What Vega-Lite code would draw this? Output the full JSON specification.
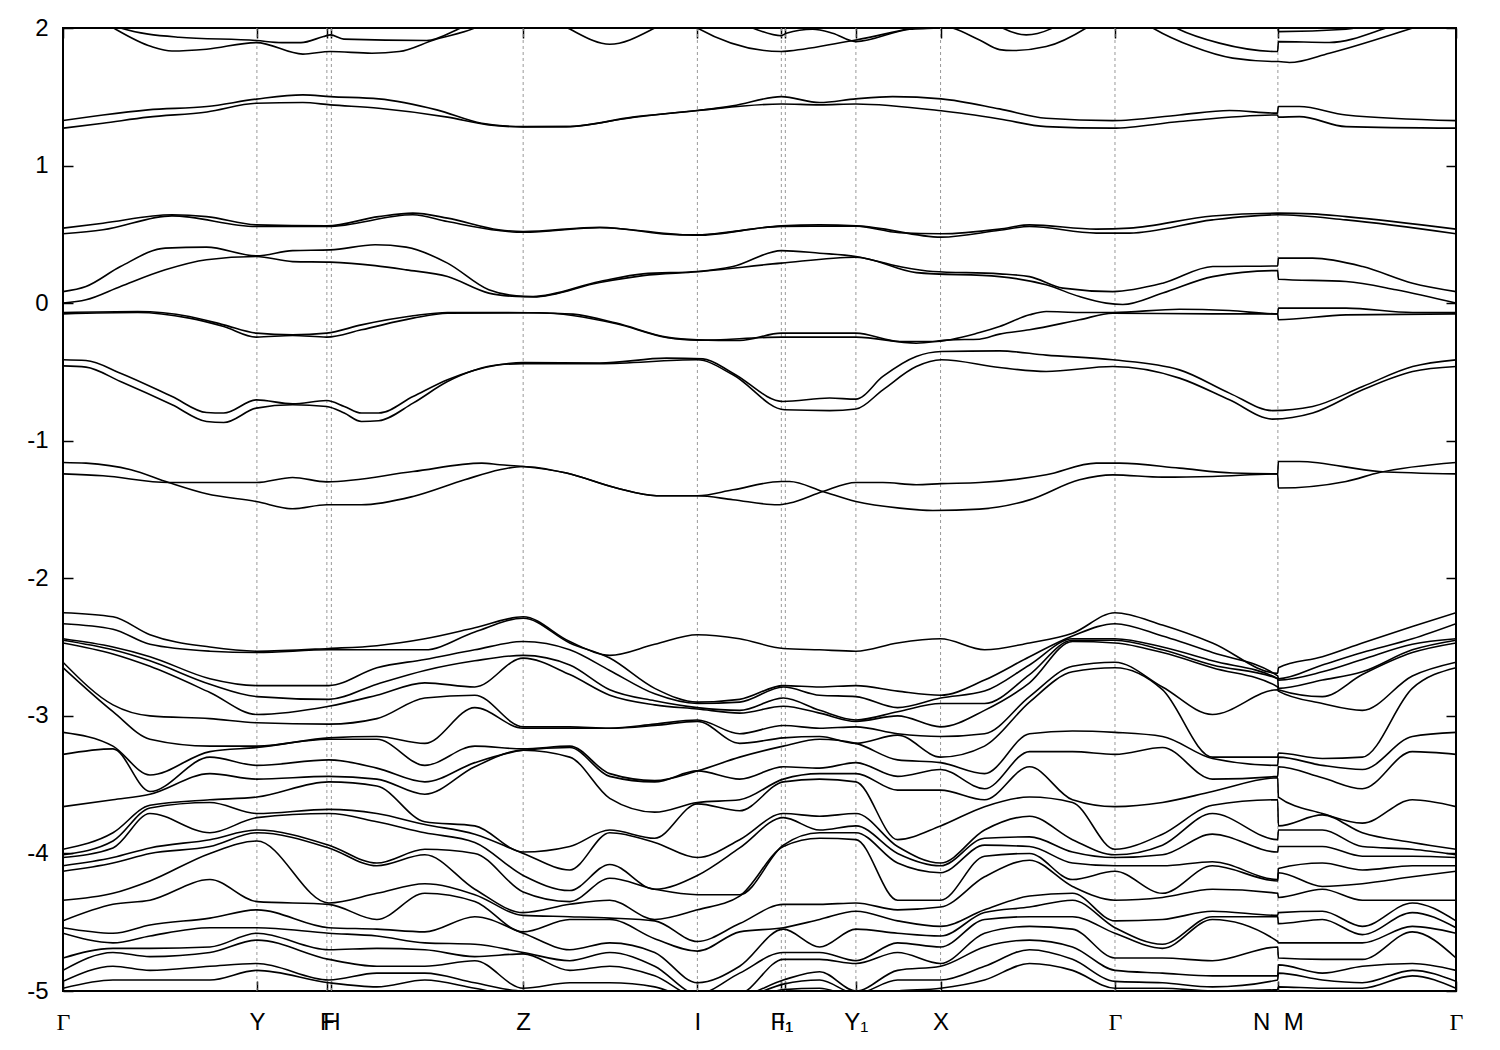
{
"$schema":"https://vega.github.io/schema/vega-lite/v6.json",
"width":1393,"height":963,
"autosize":{"type":"none"},
"padding":{"left":63,"top":28,"right":44,"bottom":59},
"background":"white",
"config":{"view":{"stroke":"black","strokeWidth":2},"font":"Liberation Sans"},
"datasets":{
"ticks":[{"k":194,"n":"Y"},{"k":264,"n":"F"},{"k":268.5,"n":"H"},{"k":460.4,"n":"Z"},{"k":634.7,"n":"I"},{"k":718.7,"n":"F1"},{"k":722.7,"n":"I1"},{"k":793.3,"n":"Y1"},{"k":878,"n":"X"},{"k":1052.5,"n":"G"},{"k":1215.5,"n":"NM"}],
"bands":[
{"b":"T1","k":0,"e":2.25},{"b":"T1","k":50.6,"e":2.0},{"b":"T1","k":88.5,"e":1.865},{"b":"T1","k":109,"e":1.833},{"b":"T1","k":143.6,"e":1.846},{"b":"T1","k":193.5,"e":1.894},{"b":"T1","k":240,"e":1.81},{"b":"T1","k":267.6,"e":1.829},{"b":"T1","k":309,"e":1.817},{"b":"T1","k":336.4,"e":1.829},{"b":"T1","k":371,"e":1.913},{"b":"T1","k":412,"e":2.0},{"b":"T1","k":460,"e":2.2},
{"b":"T2","k":0,"e":2.2},{"b":"T2","k":57.5,"e":2.0},{"b":"T2","k":116,"e":1.933},{"b":"T2","k":193.5,"e":1.909},{"b":"T2","k":219,"e":1.894},{"b":"T2","k":238,"e":1.894},{"b":"T2","k":260.7,"e":1.938},{"b":"T2","k":267.6,"e":1.95},{"b":"T2","k":281,"e":1.919},{"b":"T2","k":364,"e":1.909},{"b":"T2","k":398,"e":2.0},{"b":"T2","k":460,"e":2.2},
{"b":"T3","k":460,"e":2.2},{"b":"T3","k":505,"e":2.0},{"b":"T3","k":547,"e":1.882},{"b":"T3","k":592,"e":2.0},{"b":"T3","k":634.7,"e":2.2},
{"b":"T4","k":600,"e":2.2},{"b":"T4","k":634.7,"e":2.0},{"b":"T4","k":718.7,"e":1.829},{"b":"T4","k":727,"e":1.834},{"b":"T4","k":793.3,"e":1.913},{"b":"T4","k":878.7,"e":2.02},{"b":"T4","k":890,"e":2.0},{"b":"T4","k":917,"e":1.913},{"b":"T4","k":937,"e":1.843},{"b":"T4","k":950,"e":1.836},{"b":"T4","k":983.7,"e":1.865},{"b":"T4","k":1023.7,"e":2.0},{"b":"T4","k":1052,"e":2.15},
{"b":"T5","k":660,"e":2.1},{"b":"T5","k":690,"e":2.0},{"b":"T5","k":718.7,"e":1.944},{"b":"T5","k":723.7,"e":1.962},{"b":"T5","k":750,"e":1.991},{"b":"T5","k":770,"e":1.962},{"b":"T5","k":793,"e":1.901},{"b":"T5","k":847,"e":1.991},{"b":"T5","k":873.7,"e":2.0},{"b":"T5","k":900,"e":2.1},
{"b":"T6","k":920,"e":2.1},{"b":"T6","k":940,"e":2.0},{"b":"T6","k":963.7,"e":1.95},{"b":"T6","k":987,"e":1.99},{"b":"T6","k":1010,"e":2.1},
{"b":"T7","k":1060,"e":2.15},{"b":"T7","k":1090.3,"e":2.0},{"b":"T7","k":1130.3,"e":1.865},{"b":"T7","k":1170.3,"e":1.781},{"b":"T7","k":1215.3,"e":1.756},{"b":"T7","k":1216,"e":1.756},{"b":"T7","k":1227,"e":1.749},{"b":"T7","k":1267,"e":1.817},{"b":"T7","k":1350.3,"e":2.0},{"b":"T7","k":1393.7,"e":2.1},
{"b":"T8","k":1090,"e":2.1},{"b":"T8","k":1113.7,"e":2.0},{"b":"T8","k":1157,"e":1.89},{"b":"T8","k":1215.3,"e":1.829},{"b":"T8","k":1216,"e":1.901},{"b":"T8","k":1267,"e":1.895},{"b":"T8","k":1323.7,"e":2.0},{"b":"T8","k":1360,"e":2.1},
{"b":"T9","k":1200,"e":2.1},{"b":"T9","k":1215.3,"e":2.05},{"b":"T9","k":1216,"e":1.974},{"b":"T9","k":1283.7,"e":1.991},{"b":"T9","k":1320,"e":2.05},
{"b":"B1","k":0,"e":1.327},{"b":"B1","k":40,"e":1.368},{"b":"B1","k":85,"e":1.405},{"b":"B1","k":144,"e":1.429},{"b":"B1","k":193.5,"e":1.483},{"b":"B1","k":240,"e":1.514},{"b":"B1","k":267.6,"e":1.501},{"b":"B1","k":315.8,"e":1.485},{"b":"B1","k":374,"e":1.405},{"b":"B1","k":419,"e":1.308},{"b":"B1","k":460.4,"e":1.283},{"b":"B1","k":503.7,"e":1.283},{"b":"B1","k":570,"e":1.352},{"b":"B1","k":634.7,"e":1.4},{"b":"B1","k":670,"e":1.434},{"b":"B1","k":718.7,"e":1.501},{"b":"B1","k":757,"e":1.458},{"b":"B1","k":793.3,"e":1.485},{"b":"B1","k":830,"e":1.501},{"b":"B1","k":878.7,"e":1.485},{"b":"B1","k":937,"e":1.412},{"b":"B1","k":983.7,"e":1.344},{"b":"B1","k":1050,"e":1.327},{"b":"B1","k":1117,"e":1.368},{"b":"B1","k":1167,"e":1.4},{"b":"B1","k":1215,"e":1.381},{"b":"B1","k":1216,"e":1.429},{"b":"B1","k":1237,"e":1.429},{"b":"B1","k":1283.7,"e":1.368},{"b":"B1","k":1393.7,"e":1.327},
{"b":"B2","k":0,"e":1.272},{"b":"B2","k":40,"e":1.308},{"b":"B2","k":85,"e":1.352},{"b":"B2","k":144,"e":1.39},{"b":"B2","k":193.5,"e":1.453},{"b":"B2","k":240,"e":1.458},{"b":"B2","k":267.6,"e":1.441},{"b":"B2","k":315.8,"e":1.417},{"b":"B2","k":384.7,"e":1.352},{"b":"B2","k":426,"e":1.296},{"b":"B2","k":460.4,"e":1.281},{"b":"B2","k":503.7,"e":1.283},{"b":"B2","k":570,"e":1.35},{"b":"B2","k":634.7,"e":1.4},{"b":"B2","k":718.7,"e":1.448},{"b":"B2","k":757,"e":1.441},{"b":"B2","k":793.3,"e":1.448},{"b":"B2","k":878.7,"e":1.398},{"b":"B2","k":937,"e":1.339},{"b":"B2","k":983.7,"e":1.283},{"b":"B2","k":1050,"e":1.272},{"b":"B2","k":1117,"e":1.32},{"b":"B2","k":1215,"e":1.368},{"b":"B2","k":1216,"e":1.352},{"b":"B2","k":1237,"e":1.356},{"b":"B2","k":1283.7,"e":1.283},{"b":"B2","k":1393.7,"e":1.272},
{"b":"C1","k":0,"e":0.545},{"b":"C1","k":40,"e":0.581},{"b":"C1","k":109,"e":0.642},{"b":"C1","k":143.6,"e":0.629},{"b":"C1","k":193.5,"e":0.569},{"b":"C1","k":264,"e":0.562},{"b":"C1","k":315.8,"e":0.629},{"b":"C1","k":350,"e":0.654},{"b":"C1","k":384.7,"e":0.618},{"b":"C1","k":436,"e":0.533},{"b":"C1","k":460.4,"e":0.52},{"b":"C1","k":537,"e":0.552},{"b":"C1","k":617,"e":0.496},{"b":"C1","k":634.7,"e":0.496},{"b":"C1","k":670,"e":0.52},{"b":"C1","k":718.7,"e":0.562},{"b":"C1","k":757,"e":0.569},{"b":"C1","k":793.3,"e":0.562},{"b":"C1","k":837,"e":0.512},{"b":"C1","k":878.7,"e":0.504},{"b":"C1","k":937,"e":0.538},{"b":"C1","k":967,"e":0.569},{"b":"C1","k":1033.7,"e":0.538},{"b":"C1","k":1067,"e":0.545},{"b":"C1","k":1150,"e":0.634},{"b":"C1","k":1215.3,"e":0.654},{"b":"C1","k":1250,"e":0.649},{"b":"C1","k":1283.7,"e":0.629},{"b":"C1","k":1393.7,"e":0.538},
{"b":"C2","k":0,"e":0.504},{"b":"C2","k":40,"e":0.533},{"b":"C2","k":109,"e":0.634},{"b":"C2","k":193.5,"e":0.557},{"b":"C2","k":264,"e":0.557},{"b":"C2","k":350,"e":0.642},{"b":"C2","k":384.7,"e":0.593},{"b":"C2","k":436,"e":0.528},{"b":"C2","k":460.4,"e":0.515},{"b":"C2","k":537,"e":0.548},{"b":"C2","k":634.7,"e":0.493},{"b":"C2","k":718.7,"e":0.558},{"b":"C2","k":793.3,"e":0.56},{"b":"C2","k":878.7,"e":0.48},{"b":"C2","k":937,"e":0.53},{"b":"C2","k":967,"e":0.557},{"b":"C2","k":1033.7,"e":0.509},{"b":"C2","k":1067,"e":0.509},{"b":"C2","k":1150,"e":0.605},{"b":"C2","k":1215.3,"e":0.642},{"b":"C2","k":1283.7,"e":0.605},{"b":"C2","k":1393.7,"e":0.504},
{"b":"D1","k":0,"e":0.084},{"b":"D1","k":23,"e":0.121},{"b":"D1","k":57.5,"e":0.266},{"b":"D1","k":102.3,"e":0.4},{"b":"D1","k":143.6,"e":0.407},{"b":"D1","k":193.5,"e":0.344},{"b":"D1","k":229.7,"e":0.382},{"b":"D1","k":267.6,"e":0.387},{"b":"D1","k":312.3,"e":0.424},{"b":"D1","k":343.3,"e":0.407},{"b":"D1","k":384.7,"e":0.291},{"b":"D1","k":426,"e":0.097},{"b":"D1","k":453.5,"e":0.053},{"b":"D1","k":470.3,"e":0.048},{"b":"D1","k":537,"e":0.157},{"b":"D1","k":580.3,"e":0.213},{"b":"D1","k":634.7,"e":0.23},{"b":"D1","k":670.3,"e":0.266},{"b":"D1","k":718.7,"e":0.382},{"b":"D1","k":757,"e":0.363},{"b":"D1","k":793.3,"e":0.339},{"b":"D1","k":837,"e":0.266},{"b":"D1","k":870.3,"e":0.23},{"b":"D1","k":937,"e":0.213},{"b":"D1","k":967,"e":0.193},{"b":"D1","k":1000.3,"e":0.109},{"b":"D1","k":1050.3,"e":0.084},{"b":"D1","k":1100.3,"e":0.145},{"b":"D1","k":1150.3,"e":0.266},{"b":"D1","k":1215.3,"e":0.271},{"b":"D1","k":1216,"e":0.327},{"b":"D1","k":1250.3,"e":0.327},{"b":"D1","k":1300.3,"e":0.266},{"b":"D1","k":1350.3,"e":0.145},{"b":"D1","k":1393.7,"e":0.084},
{"b":"D2","k":0,"e":0.0},{"b":"D2","k":23,"e":0.024},{"b":"D2","k":57.5,"e":0.121},{"b":"D2","k":102.3,"e":0.242},{"b":"D2","k":143.6,"e":0.315},{"b":"D2","k":193.5,"e":0.339},{"b":"D2","k":229.7,"e":0.302},{"b":"D2","k":267.6,"e":0.298},{"b":"D2","k":312.3,"e":0.273},{"b":"D2","k":343.3,"e":0.242},{"b":"D2","k":384.7,"e":0.193},{"b":"D2","k":426,"e":0.073},{"b":"D2","k":453.5,"e":0.048},{"b":"D2","k":470.3,"e":0.045},{"b":"D2","k":537,"e":0.15},{"b":"D2","k":580.3,"e":0.2},{"b":"D2","k":634.7,"e":0.228},{"b":"D2","k":718.7,"e":0.291},{"b":"D2","k":793.3,"e":0.334},{"b":"D2","k":853.7,"e":0.222},{"b":"D2","k":937,"e":0.193},{"b":"D2","k":983.7,"e":0.133},{"b":"D2","k":1017,"e":0.048},{"b":"D2","k":1043.7,"e":0.0},{"b":"D2","k":1060.3,"e":-0.01},{"b":"D2","k":1100.3,"e":0.073},{"b":"D2","k":1150.3,"e":0.193},{"b":"D2","k":1215.3,"e":0.237},{"b":"D2","k":1216,"e":0.174},{"b":"D2","k":1283.7,"e":0.157},{"b":"D2","k":1333.7,"e":0.097},{"b":"D2","k":1393.7,"e":0.0},
{"b":"E1","k":0,"e":-0.068},{"b":"E1","k":74.7,"e":-0.061},{"b":"E1","k":126.4,"e":-0.097},{"b":"E1","k":160.8,"e":-0.158},{"b":"E1","k":193.5,"e":-0.218},{"b":"E1","k":229.7,"e":-0.23},{"b":"E1","k":263.8,"e":-0.218},{"b":"E1","k":298.6,"e":-0.158},{"b":"E1","k":350.2,"e":-0.092},{"b":"E1","k":384.7,"e":-0.068},{"b":"E1","k":437,"e":-0.068},{"b":"E1","k":487,"e":-0.073},{"b":"E1","k":510.3,"e":-0.08},{"b":"E1","k":553.7,"e":-0.145},{"b":"E1","k":603.7,"e":-0.247},{"b":"E1","k":634.7,"e":-0.267},{"b":"E1","k":677,"e":-0.272},{"b":"E1","k":718.7,"e":-0.218},{"b":"E1","k":793.3,"e":-0.218},{"b":"E1","k":837,"e":-0.279},{"b":"E1","k":870.3,"e":-0.279},{"b":"E1","k":917,"e":-0.214},{"b":"E1","k":937,"e":-0.17},{"b":"E1","k":967,"e":-0.085},{"b":"E1","k":983.7,"e":-0.061},{"b":"E1","k":1017,"e":-0.068},{"b":"E1","k":1050.3,"e":-0.068},{"b":"E1","k":1117,"e":-0.044},{"b":"E1","k":1167,"e":-0.054},{"b":"E1","k":1215.3,"e":-0.078},{"b":"E1","k":1216,"e":-0.036},{"b":"E1","k":1283.7,"e":-0.036},{"b":"E1","k":1350.3,"e":-0.068},{"b":"E1","k":1393.7,"e":-0.068},
{"b":"E2","k":0,"e":-0.078},{"b":"E2","k":74.7,"e":-0.068},{"b":"E2","k":126.4,"e":-0.109},{"b":"E2","k":160.8,"e":-0.17},{"b":"E2","k":193.5,"e":-0.247},{"b":"E2","k":229.7,"e":-0.235},{"b":"E2","k":263.8,"e":-0.247},{"b":"E2","k":298.6,"e":-0.194},{"b":"E2","k":350.2,"e":-0.109},{"b":"E2","k":384.7,"e":-0.073},{"b":"E2","k":477,"e":-0.07},{"b":"E2","k":553.7,"e":-0.15},{"b":"E2","k":603.7,"e":-0.25},{"b":"E2","k":634.7,"e":-0.27},{"b":"E2","k":718.7,"e":-0.247},{"b":"E2","k":793.3,"e":-0.247},{"b":"E2","k":853.7,"e":-0.291},{"b":"E2","k":887,"e":-0.267},{"b":"E2","k":917,"e":-0.262},{"b":"E2","k":937,"e":-0.225},{"b":"E2","k":967,"e":-0.194},{"b":"E2","k":1017,"e":-0.121},{"b":"E2","k":1050.3,"e":-0.073},{"b":"E2","k":1150,"e":-0.078},{"b":"E2","k":1215.3,"e":-0.078},{"b":"E2","k":1216,"e":-0.121},{"b":"E2","k":1283.7,"e":-0.085},{"b":"E2","k":1393.7,"e":-0.078},
{"b":"F1","k":0,"e":-0.412},{"b":"F1","k":23,"e":-0.417},{"b":"F1","k":57.5,"e":-0.509},{"b":"F1","k":109.2,"e":-0.679},{"b":"F1","k":143.6,"e":-0.795},{"b":"F1","k":160.8,"e":-0.799},{"b":"F1","k":193.5,"e":-0.703},{"b":"F1","k":229.7,"e":-0.732},{"b":"F1","k":263.8,"e":-0.708},{"b":"F1","k":281.4,"e":-0.751},{"b":"F1","k":298.6,"e":-0.799},{"b":"F1","k":315.8,"e":-0.799},{"b":"F1","k":350.2,"e":-0.679},{"b":"F1","k":384.7,"e":-0.557},{"b":"F1","k":436.3,"e":-0.448},{"b":"F1","k":460.4,"e":-0.432},{"b":"F1","k":537,"e":-0.436},{"b":"F1","k":603.7,"e":-0.4},{"b":"F1","k":640.3,"e":-0.405},{"b":"F1","k":670.3,"e":-0.509},{"b":"F1","k":720.3,"e":-0.715},{"b":"F1","k":767,"e":-0.69},{"b":"F1","k":793.3,"e":-0.698},{"b":"F1","k":820.3,"e":-0.533},{"b":"F1","k":853.7,"e":-0.388},{"b":"F1","k":878.7,"e":-0.352},{"b":"F1","k":937,"e":-0.347},{"b":"F1","k":983.7,"e":-0.378},{"b":"F1","k":1050.3,"e":-0.412},{"b":"F1","k":1117,"e":-0.485},{"b":"F1","k":1167,"e":-0.654},{"b":"F1","k":1210.3,"e":-0.781},{"b":"F1","k":1250.3,"e":-0.751},{"b":"F1","k":1300.3,"e":-0.606},{"b":"F1","k":1350.3,"e":-0.461},{"b":"F1","k":1393.7,"e":-0.412},
{"b":"F2","k":0,"e":-0.456},{"b":"F2","k":23,"e":-0.465},{"b":"F2","k":57.5,"e":-0.57},{"b":"F2","k":109.2,"e":-0.739},{"b":"F2","k":143.6,"e":-0.86},{"b":"F2","k":160.8,"e":-0.868},{"b":"F2","k":193.5,"e":-0.763},{"b":"F2","k":229.7,"e":-0.739},{"b":"F2","k":263.8,"e":-0.751},{"b":"F2","k":281.4,"e":-0.799},{"b":"F2","k":298.6,"e":-0.86},{"b":"F2","k":315.8,"e":-0.855},{"b":"F2","k":350.2,"e":-0.727},{"b":"F2","k":384.7,"e":-0.57},{"b":"F2","k":436.3,"e":-0.448},{"b":"F2","k":460.4,"e":-0.44},{"b":"F2","k":537,"e":-0.44},{"b":"F2","k":634.7,"e":-0.412},{"b":"F2","k":670.3,"e":-0.521},{"b":"F2","k":722,"e":-0.775},{"b":"F2","k":767,"e":-0.781},{"b":"F2","k":793.3,"e":-0.77},{"b":"F2","k":820.3,"e":-0.63},{"b":"F2","k":853.7,"e":-0.461},{"b":"F2","k":878.7,"e":-0.412},{"b":"F2","k":937,"e":-0.468},{"b":"F2","k":983.7,"e":-0.497},{"b":"F2","k":1050.3,"e":-0.461},{"b":"F2","k":1117,"e":-0.545},{"b":"F2","k":1167,"e":-0.703},{"b":"F2","k":1210.3,"e":-0.843},{"b":"F2","k":1250.3,"e":-0.799},{"b":"F2","k":1300.3,"e":-0.63},{"b":"F2","k":1350.3,"e":-0.497},{"b":"F2","k":1393.7,"e":-0.461},
{"b":"Ga","k":0,"e":-1.158},{"b":"Ga","k":23,"e":-1.163},{"b":"Ga","k":68,"e":-1.211},{"b":"Ga","k":105.7,"e":-1.304},{"b":"Ga","k":143.6,"e":-1.386},{"b":"Ga","k":193.5,"e":-1.442},{"b":"Ga","k":229.7,"e":-1.495},{"b":"Ga","k":263.8,"e":-1.466},{"b":"Ga","k":298.6,"e":-1.466},{"b":"Ga","k":350.2,"e":-1.405},{"b":"Ga","k":401.9,"e":-1.284},{"b":"Ga","k":437,"e":-1.211},{"b":"Ga","k":460.3,"e":-1.187},{"b":"Ga","k":503.7,"e":-1.235},{"b":"Ga","k":553.7,"e":-1.344},{"b":"Ga","k":593.7,"e":-1.4},{"b":"Ga","k":634.7,"e":-1.4},{"b":"Ga","k":670.3,"e":-1.429},{"b":"Ga","k":715.3,"e":-1.466},{"b":"Ga","k":727,"e":-1.453},{"b":"Ga","k":760.3,"e":-1.369},{"b":"Ga","k":793.3,"e":-1.304},{"b":"Ga","k":820.3,"e":-1.304},{"b":"Ga","k":853.7,"e":-1.32},{"b":"Ga","k":878.7,"e":-1.312},{"b":"Ga","k":917,"e":-1.304},{"b":"Ga","k":983.7,"e":-1.248},{"b":"Ga","k":1033.7,"e":-1.163},{"b":"Ga","k":1057,"e":-1.163},{"b":"Ga","k":1117,"e":-1.199},{"b":"Ga","k":1170.3,"e":-1.235},{"b":"Ga","k":1215.3,"e":-1.241},{"b":"Ga","k":1216,"e":-1.151},{"b":"Ga","k":1237,"e":-1.151},{"b":"Ga","k":1317,"e":-1.224},{"b":"Ga","k":1393.7,"e":-1.241},
{"b":"Gb","k":0,"e":-1.241},{"b":"Gb","k":40,"e":-1.255},{"b":"Gb","k":105.7,"e":-1.304},{"b":"Gb","k":193.5,"e":-1.304},{"b":"Gb","k":229.7,"e":-1.267},{"b":"Gb","k":263.8,"e":-1.299},{"b":"Gb","k":350.2,"e":-1.224},{"b":"Gb","k":419,"e":-1.163},{"b":"Gb","k":437,"e":-1.175},{"b":"Gb","k":460.3,"e":-1.187},{"b":"Gb","k":503.7,"e":-1.235},{"b":"Gb","k":553.7,"e":-1.344},{"b":"Gb","k":593.7,"e":-1.4},{"b":"Gb","k":634.7,"e":-1.4},{"b":"Gb","k":670.3,"e":-1.357},{"b":"Gb","k":718.7,"e":-1.296},{"b":"Gb","k":727,"e":-1.296},{"b":"Gb","k":760.3,"e":-1.369},{"b":"Gb","k":793.3,"e":-1.442},{"b":"Gb","k":837,"e":-1.49},{"b":"Gb","k":870.3,"e":-1.507},{"b":"Gb","k":917,"e":-1.497},{"b":"Gb","k":967,"e":-1.43},{"b":"Gb","k":1017,"e":-1.284},{"b":"Gb","k":1050.3,"e":-1.248},{"b":"Gb","k":1100.3,"e":-1.265},{"b":"Gb","k":1150.3,"e":-1.26},{"b":"Gb","k":1215.3,"e":-1.241},{"b":"Gb","k":1216,"e":-1.344},{"b":"Gb","k":1283.7,"e":-1.296},{"b":"Gb","k":1317,"e":-1.231},{"b":"Gb","k":1393.7,"e":-1.158},
{"b":"L1","k":0,"e":-2.25},{"b":"L1","k":50,"e":-2.28},{"b":"L1","k":87,"e":-2.41},{"b":"L1","k":147,"e":-2.5},{"b":"L1","k":194,"e":-2.53},{"b":"L1","k":266,"e":-2.51},{"b":"L1","k":314,"e":-2.49},{"b":"L1","k":362,"e":-2.44},{"b":"L1","k":412,"e":-2.36},{"b":"L1","k":460.4,"e":-2.28},{"b":"L1","k":507,"e":-2.46},{"b":"L1","k":547,"e":-2.56},{"b":"L1","k":592,"e":-2.48},{"b":"L1","k":634.7,"e":-2.41},{"b":"L1","k":677,"e":-2.44},{"b":"L1","k":720.7,"e":-2.51},{"b":"L1","k":757,"e":-2.52},{"b":"L1","k":793.3,"e":-2.53},{"b":"L1","k":835,"e":-2.47},{"b":"L1","k":878,"e":-2.44},{"b":"L1","k":922,"e":-2.52},{"b":"L1","k":967,"e":-2.47},{"b":"L1","k":1010,"e":-2.4},{"b":"L1","k":1052.5,"e":-2.25},{"b":"L1","k":1100,"e":-2.34},{"b":"L1","k":1150,"e":-2.47},{"b":"L1","k":1215.3,"e":-2.69},{"b":"L1","k":1216,"e":-2.65},{"b":"L1","k":1260,"e":-2.57},{"b":"L1","k":1300,"e":-2.47},{"b":"L1","k":1350,"e":-2.35},{"b":"L1","k":1393.7,"e":-2.25},
{"b":"L2","k":0,"e":-2.33},{"b":"L2","k":50,"e":-2.37},{"b":"L2","k":87,"e":-2.48},{"b":"L2","k":147,"e":-2.53},{"b":"L2","k":194,"e":-2.54},{"b":"L2","k":266,"e":-2.52},{"b":"L2","k":314,"e":-2.52},{"b":"L2","k":362,"e":-2.52},{"b":"L2","k":412,"e":-2.39},{"b":"L2","k":460.4,"e":-2.29},{"b":"L2","k":507,"e":-2.47},{"b":"L2","k":547,"e":-2.58},{"b":"L2","k":592,"e":-2.8},{"b":"L2","k":634.7,"e":-2.9},{"b":"L2","k":677,"e":-2.88},{"b":"L2","k":720.7,"e":-2.78},{"b":"L2","k":757,"e":-2.79},{"b":"L2","k":793.3,"e":-2.78},{"b":"L2","k":835,"e":-2.82},{"b":"L2","k":878,"e":-2.85},{"b":"L2","k":922,"e":-2.74},{"b":"L2","k":967,"e":-2.57},{"b":"L2","k":1010,"e":-2.42},{"b":"L2","k":1052.5,"e":-2.33},{"b":"L2","k":1100,"e":-2.42},{"b":"L2","k":1150,"e":-2.54},{"b":"L2","k":1215.3,"e":-2.71},{"b":"L2","k":1216,"e":-2.73},{"b":"L2","k":1260,"e":-2.63},{"b":"L2","k":1300,"e":-2.54},{"b":"L2","k":1350,"e":-2.44},{"b":"L2","k":1393.7,"e":-2.33},
{"b":"L3","k":0,"e":-2.44},{"b":"L3","k":50,"e":-2.5},{"b":"L3","k":87,"e":-2.57},{"b":"L3","k":147,"e":-2.73},{"b":"L3","k":194,"e":-2.78},{"b":"L3","k":266,"e":-2.78},{"b":"L3","k":314,"e":-2.65},{"b":"L3","k":362,"e":-2.59},{"b":"L3","k":412,"e":-2.52},{"b":"L3","k":460.4,"e":-2.46},{"b":"L3","k":507,"e":-2.52},{"b":"L3","k":547,"e":-2.67},{"b":"L3","k":592,"e":-2.84},{"b":"L3","k":634.7,"e":-2.91},{"b":"L3","k":677,"e":-2.9},{"b":"L3","k":720.7,"e":-2.79},{"b":"L3","k":757,"e":-2.85},{"b":"L3","k":793.3,"e":-2.86},{"b":"L3","k":835,"e":-2.94},{"b":"L3","k":878,"e":-2.87},{"b":"L3","k":922,"e":-2.82},{"b":"L3","k":967,"e":-2.63},{"b":"L3","k":1010,"e":-2.44},{"b":"L3","k":1052.5,"e":-2.44},{"b":"L3","k":1100,"e":-2.5},{"b":"L3","k":1150,"e":-2.6},{"b":"L3","k":1215.3,"e":-2.73},{"b":"L3","k":1216,"e":-2.74},{"b":"L3","k":1260,"e":-2.68},{"b":"L3","k":1300,"e":-2.59},{"b":"L3","k":1350,"e":-2.48},{"b":"L3","k":1393.7,"e":-2.44},
{"b":"L4","k":0,"e":-2.45},{"b":"L4","k":50,"e":-2.52},{"b":"L4","k":87,"e":-2.6},{"b":"L4","k":147,"e":-2.77},{"b":"L4","k":194,"e":-2.86},{"b":"L4","k":266,"e":-2.88},{"b":"L4","k":314,"e":-2.77},{"b":"L4","k":362,"e":-2.67},{"b":"L4","k":412,"e":-2.6},{"b":"L4","k":460.4,"e":-2.56},{"b":"L4","k":507,"e":-2.63},{"b":"L4","k":547,"e":-2.81},{"b":"L4","k":592,"e":-2.89},{"b":"L4","k":634.7,"e":-2.94},{"b":"L4","k":677,"e":-2.96},{"b":"L4","k":720.7,"e":-2.87},{"b":"L4","k":757,"e":-2.96},{"b":"L4","k":793.3,"e":-3.03},{"b":"L4","k":835,"e":-2.97},{"b":"L4","k":878,"e":-2.91},{"b":"L4","k":922,"e":-2.91},{"b":"L4","k":967,"e":-2.7},{"b":"L4","k":1010,"e":-2.45},{"b":"L4","k":1052.5,"e":-2.45},{"b":"L4","k":1100,"e":-2.52},{"b":"L4","k":1150,"e":-2.63},{"b":"L4","k":1215.3,"e":-2.73},{"b":"L4","k":1216,"e":-2.8},{"b":"L4","k":1260,"e":-2.74},{"b":"L4","k":1300,"e":-2.68},{"b":"L4","k":1350,"e":-2.52},{"b":"L4","k":1393.7,"e":-2.45},
{"b":"L5","k":0,"e":-2.47},{"b":"L5","k":50,"e":-2.55},{"b":"L5","k":87,"e":-2.64},{"b":"L5","k":147,"e":-2.83},{"b":"L5","k":194,"e":-2.99},{"b":"L5","k":266,"e":-2.93},{"b":"L5","k":314,"e":-2.85},{"b":"L5","k":362,"e":-2.76},{"b":"L5","k":412,"e":-2.79},{"b":"L5","k":460.4,"e":-2.58},{"b":"L5","k":507,"e":-2.7},{"b":"L5","k":547,"e":-2.85},{"b":"L5","k":592,"e":-2.92},{"b":"L5","k":634.7,"e":-2.95},{"b":"L5","k":677,"e":-2.98},{"b":"L5","k":720.7,"e":-2.93},{"b":"L5","k":757,"e":-2.98},{"b":"L5","k":793.3,"e":-3.04},{"b":"L5","k":835,"e":-3.0},{"b":"L5","k":878,"e":-3.08},{"b":"L5","k":922,"e":-2.96},{"b":"L5","k":967,"e":-2.76},{"b":"L5","k":1010,"e":-2.46},{"b":"L5","k":1052.5,"e":-2.47},{"b":"L5","k":1100,"e":-2.54},{"b":"L5","k":1150,"e":-2.65},{"b":"L5","k":1215.3,"e":-2.79},{"b":"L5","k":1216,"e":-2.81},{"b":"L5","k":1260,"e":-2.86},{"b":"L5","k":1300,"e":-2.7},{"b":"L5","k":1350,"e":-2.54},{"b":"L5","k":1393.7,"e":-2.47},
{"b":"L6","k":0,"e":-2.61},{"b":"L6","k":50,"e":-2.92},{"b":"L6","k":87,"e":-3.0},{"b":"L6","k":147,"e":-3.02},{"b":"L6","k":194,"e":-3.05},{"b":"L6","k":266,"e":-3.06},{"b":"L6","k":314,"e":-3.02},{"b":"L6","k":362,"e":-2.87},{"b":"L6","k":412,"e":-2.85},{"b":"L6","k":460.4,"e":-3.08},{"b":"L6","k":507,"e":-3.08},{"b":"L6","k":547,"e":-3.09},{"b":"L6","k":592,"e":-3.06},{"b":"L6","k":634.7,"e":-3.03},{"b":"L6","k":677,"e":-3.13},{"b":"L6","k":720.7,"e":-3.07},{"b":"L6","k":757,"e":-3.09},{"b":"L6","k":793.3,"e":-3.08},{"b":"L6","k":835,"e":-3.13},{"b":"L6","k":878,"e":-3.15},{"b":"L6","k":922,"e":-3.13},{"b":"L6","k":967,"e":-2.86},{"b":"L6","k":1010,"e":-2.64},{"b":"L6","k":1052.5,"e":-2.61},{"b":"L6","k":1100,"e":-2.79},{"b":"L6","k":1150,"e":-2.99},{"b":"L6","k":1215.3,"e":-2.81},{"b":"L6","k":1216,"e":-2.82},{"b":"L6","k":1260,"e":-2.91},{"b":"L6","k":1300,"e":-2.96},{"b":"L6","k":1350,"e":-2.71},{"b":"L6","k":1393.7,"e":-2.61},
{"b":"L7","k":0,"e":-2.65},{"b":"L7","k":50,"e":-2.97},{"b":"L7","k":87,"e":-3.17},{"b":"L7","k":147,"e":-3.22},{"b":"L7","k":194,"e":-3.22},{"b":"L7","k":266,"e":-3.16},{"b":"L7","k":314,"e":-3.15},{"b":"L7","k":362,"e":-3.2},{"b":"L7","k":412,"e":-2.94},{"b":"L7","k":460.4,"e":-3.09},{"b":"L7","k":507,"e":-3.09},{"b":"L7","k":547,"e":-3.09},{"b":"L7","k":592,"e":-3.07},{"b":"L7","k":634.7,"e":-3.04},{"b":"L7","k":677,"e":-3.2},{"b":"L7","k":720.7,"e":-3.16},{"b":"L7","k":757,"e":-3.15},{"b":"L7","k":793.3,"e":-3.2},{"b":"L7","k":835,"e":-3.14},{"b":"L7","k":878,"e":-3.3},{"b":"L7","k":922,"e":-3.22},{"b":"L7","k":967,"e":-2.9},{"b":"L7","k":1010,"e":-2.68},{"b":"L7","k":1052.5,"e":-2.65},{"b":"L7","k":1100,"e":-2.81},{"b":"L7","k":1150,"e":-3.3},{"b":"L7","k":1215.3,"e":-3.3},{"b":"L7","k":1216,"e":-3.27},{"b":"L7","k":1260,"e":-3.31},{"b":"L7","k":1300,"e":-3.3},{"b":"L7","k":1350,"e":-2.8},{"b":"L7","k":1393.7,"e":-2.65},
{"b":"L8","k":0,"e":-3.12},{"b":"L8","k":50,"e":-3.22},{"b":"L8","k":87,"e":-3.43},{"b":"L8","k":147,"e":-3.26},{"b":"L8","k":194,"e":-3.23},{"b":"L8","k":266,"e":-3.17},{"b":"L8","k":314,"e":-3.17},{"b":"L8","k":362,"e":-3.36},{"b":"L8","k":412,"e":-3.22},{"b":"L8","k":460.4,"e":-3.24},{"b":"L8","k":507,"e":-3.22},{"b":"L8","k":547,"e":-3.42},{"b":"L8","k":592,"e":-3.47},{"b":"L8","k":634.7,"e":-3.4},{"b":"L8","k":677,"e":-3.3},{"b":"L8","k":720.7,"e":-3.22},{"b":"L8","k":757,"e":-3.17},{"b":"L8","k":793.3,"e":-3.2},{"b":"L8","k":835,"e":-3.32},{"b":"L8","k":878,"e":-3.34},{"b":"L8","k":922,"e":-3.42},{"b":"L8","k":967,"e":-3.13},{"b":"L8","k":1010,"e":-3.11},{"b":"L8","k":1052.5,"e":-3.12},{"b":"L8","k":1100,"e":-3.15},{"b":"L8","k":1150,"e":-3.31},{"b":"L8","k":1215.3,"e":-3.36},{"b":"L8","k":1216,"e":-3.3},{"b":"L8","k":1260,"e":-3.36},{"b":"L8","k":1300,"e":-3.39},{"b":"L8","k":1350,"e":-3.15},{"b":"L8","k":1393.7,"e":-3.12},
{"b":"L9","k":0,"e":-3.28},{"b":"L9","k":50,"e":-3.24},{"b":"L9","k":87,"e":-3.55},{"b":"L9","k":147,"e":-3.3},{"b":"L9","k":194,"e":-3.36},{"b":"L9","k":266,"e":-3.32},{"b":"L9","k":314,"e":-3.38},{"b":"L9","k":362,"e":-3.48},{"b":"L9","k":412,"e":-3.34},{"b":"L9","k":460.4,"e":-3.25},{"b":"L9","k":507,"e":-3.23},{"b":"L9","k":547,"e":-3.44},{"b":"L9","k":592,"e":-3.48},{"b":"L9","k":634.7,"e":-3.4},{"b":"L9","k":677,"e":-3.46},{"b":"L9","k":720.7,"e":-3.37},{"b":"L9","k":757,"e":-3.38},{"b":"L9","k":793.3,"e":-3.34},{"b":"L9","k":835,"e":-3.44},{"b":"L9","k":878,"e":-3.39},{"b":"L9","k":922,"e":-3.53},{"b":"L9","k":967,"e":-3.26},{"b":"L9","k":1010,"e":-3.26},{"b":"L9","k":1052.5,"e":-3.28},{"b":"L9","k":1100,"e":-3.23},{"b":"L9","k":1150,"e":-3.46},{"b":"L9","k":1215.3,"e":-3.44},{"b":"L9","k":1216,"e":-3.37},{"b":"L9","k":1260,"e":-3.45},{"b":"L9","k":1300,"e":-3.53},{"b":"L9","k":1350,"e":-3.26},{"b":"L9","k":1393.7,"e":-3.28},
{"b":"L10","k":0,"e":-3.66},{"b":"L10","k":50,"e":-3.61},{"b":"L10","k":87,"e":-3.57},{"b":"L10","k":147,"e":-3.42},{"b":"L10","k":194,"e":-3.46},{"b":"L10","k":266,"e":-3.44},{"b":"L10","k":314,"e":-3.46},{"b":"L10","k":362,"e":-3.57},{"b":"L10","k":412,"e":-3.37},{"b":"L10","k":460.4,"e":-3.25},{"b":"L10","k":507,"e":-3.3},{"b":"L10","k":547,"e":-3.6},{"b":"L10","k":592,"e":-3.7},{"b":"L10","k":634.7,"e":-3.63},{"b":"L10","k":677,"e":-3.61},{"b":"L10","k":720.7,"e":-3.46},{"b":"L10","k":757,"e":-3.42},{"b":"L10","k":793.3,"e":-3.42},{"b":"L10","k":835,"e":-3.54},{"b":"L10","k":878,"e":-3.54},{"b":"L10","k":922,"e":-3.61},{"b":"L10","k":967,"e":-3.37},{"b":"L10","k":1010,"e":-3.61},{"b":"L10","k":1052.5,"e":-3.66},{"b":"L10","k":1100,"e":-3.63},{"b":"L10","k":1150,"e":-3.55},{"b":"L10","k":1215.3,"e":-3.45},{"b":"L10","k":1216,"e":-3.59},{"b":"L10","k":1260,"e":-3.71},{"b":"L10","k":1300,"e":-3.78},{"b":"L10","k":1350,"e":-3.61},{"b":"L10","k":1393.7,"e":-3.66},
{"b":"L11","k":0,"e":-3.97},{"b":"L11","k":50,"e":-3.85},{"b":"L11","k":87,"e":-3.65},{"b":"L11","k":147,"e":-3.61},{"b":"L11","k":194,"e":-3.59},{"b":"L11","k":266,"e":-3.48},{"b":"L11","k":314,"e":-3.51},{"b":"L11","k":362,"e":-3.77},{"b":"L11","k":412,"e":-3.8},{"b":"L11","k":460.4,"e":-3.99},{"b":"L11","k":507,"e":-3.95},{"b":"L11","k":547,"e":-3.83},{"b":"L11","k":592,"e":-3.89},{"b":"L11","k":634.7,"e":-3.64},{"b":"L11","k":677,"e":-3.69},{"b":"L11","k":720.7,"e":-3.48},{"b":"L11","k":757,"e":-3.46},{"b":"L11","k":793.3,"e":-3.48},{"b":"L11","k":835,"e":-3.9},{"b":"L11","k":878,"e":-3.8},{"b":"L11","k":922,"e":-3.66},{"b":"L11","k":967,"e":-3.59},{"b":"L11","k":1010,"e":-3.63},{"b":"L11","k":1052.5,"e":-3.97},{"b":"L11","k":1100,"e":-3.86},{"b":"L11","k":1150,"e":-3.65},{"b":"L11","k":1215.3,"e":-3.61},{"b":"L11","k":1216,"e":-3.8},{"b":"L11","k":1260,"e":-3.72},{"b":"L11","k":1300,"e":-3.85},{"b":"L11","k":1350,"e":-3.92},{"b":"L11","k":1393.7,"e":-3.97},
{"b":"L12","k":0,"e":-4.01},{"b":"L12","k":50,"e":-3.91},{"b":"L12","k":87,"e":-3.67},{"b":"L12","k":147,"e":-3.63},{"b":"L12","k":194,"e":-3.71},{"b":"L12","k":266,"e":-3.68},{"b":"L12","k":314,"e":-3.71},{"b":"L12","k":362,"e":-3.79},{"b":"L12","k":412,"e":-3.86},{"b":"L12","k":460.4,"e":-4.0},{"b":"L12","k":507,"e":-4.12},{"b":"L12","k":547,"e":-3.85},{"b":"L12","k":592,"e":-3.92},{"b":"L12","k":634.7,"e":-4.03},{"b":"L12","k":677,"e":-3.9},{"b":"L12","k":720.7,"e":-3.71},{"b":"L12","k":757,"e":-3.73},{"b":"L12","k":793.3,"e":-3.71},{"b":"L12","k":835,"e":-3.95},{"b":"L12","k":878,"e":-4.07},{"b":"L12","k":922,"e":-3.83},{"b":"L12","k":967,"e":-3.73},{"b":"L12","k":1010,"e":-3.9},{"b":"L12","k":1052.5,"e":-4.01},{"b":"L12","k":1100,"e":-3.94},{"b":"L12","k":1150,"e":-3.71},{"b":"L12","k":1215.3,"e":-3.9},{"b":"L12","k":1216,"e":-3.83},{"b":"L12","k":1260,"e":-3.83},{"b":"L12","k":1300,"e":-3.95},{"b":"L12","k":1350,"e":-3.97},{"b":"L12","k":1393.7,"e":-4.01},
{"b":"L13","k":0,"e":-4.03},{"b":"L13","k":50,"e":-3.96},{"b":"L13","k":87,"e":-3.71},{"b":"L13","k":147,"e":-3.85},{"b":"L13","k":194,"e":-3.74},{"b":"L13","k":266,"e":-3.71},{"b":"L13","k":314,"e":-3.77},{"b":"L13","k":362,"e":-3.85},{"b":"L13","k":412,"e":-3.92},{"b":"L13","k":460.4,"e":-4.16},{"b":"L13","k":507,"e":-4.27},{"b":"L13","k":547,"e":-4.08},{"b":"L13","k":592,"e":-4.26},{"b":"L13","k":634.7,"e":-4.16},{"b":"L13","k":677,"e":-3.96},{"b":"L13","k":720.7,"e":-3.74},{"b":"L13","k":757,"e":-3.83},{"b":"L13","k":793.3,"e":-3.8},{"b":"L13","k":835,"e":-4.0},{"b":"L13","k":878,"e":-4.09},{"b":"L13","k":922,"e":-3.89},{"b":"L13","k":967,"e":-3.88},{"b":"L13","k":1010,"e":-3.99},{"b":"L13","k":1052.5,"e":-4.03},{"b":"L13","k":1100,"e":-4.01},{"b":"L13","k":1150,"e":-3.86},{"b":"L13","k":1215.3,"e":-3.99},{"b":"L13","k":1216,"e":-3.95},{"b":"L13","k":1260,"e":-3.95},{"b":"L13","k":1300,"e":-4.02},{"b":"L13","k":1350,"e":-4.02},{"b":"L13","k":1393.7,"e":-4.03},
{"b":"L14","k":0,"e":-4.09},{"b":"L14","k":50,"e":-4.03},{"b":"L14","k":87,"e":-3.96},{"b":"L14","k":147,"e":-3.9},{"b":"L14","k":194,"e":-3.83},{"b":"L14","k":266,"e":-3.94},{"b":"L14","k":314,"e":-4.07},{"b":"L14","k":362,"e":-3.97},{"b":"L14","k":412,"e":-4.0},{"b":"L14","k":460.4,"e":-4.28},{"b":"L14","k":507,"e":-4.35},{"b":"L14","k":547,"e":-4.18},{"b":"L14","k":592,"e":-4.26},{"b":"L14","k":634.7,"e":-4.3},{"b":"L14","k":677,"e":-4.3},{"b":"L14","k":720.7,"e":-3.94},{"b":"L14","k":757,"e":-3.85},{"b":"L14","k":793.3,"e":-3.85},{"b":"L14","k":835,"e":-4.07},{"b":"L14","k":878,"e":-4.14},{"b":"L14","k":922,"e":-3.94},{"b":"L14","k":967,"e":-3.95},{"b":"L14","k":1010,"e":-4.07},{"b":"L14","k":1052.5,"e":-4.09},{"b":"L14","k":1100,"e":-4.09},{"b":"L14","k":1150,"e":-4.06},{"b":"L14","k":1215.3,"e":-4.19},{"b":"L14","k":1216,"e":-4.11},{"b":"L14","k":1260,"e":-4.07},{"b":"L14","k":1300,"e":-4.12},{"b":"L14","k":1350,"e":-4.09},{"b":"L14","k":1393.7,"e":-4.09},
{"b":"L15","k":0,"e":-4.13},{"b":"L15","k":50,"e":-4.07},{"b":"L15","k":87,"e":-4.0},{"b":"L15","k":147,"e":-3.95},{"b":"L15","k":194,"e":-3.85},{"b":"L15","k":266,"e":-3.96},{"b":"L15","k":314,"e":-4.09},{"b":"L15","k":362,"e":-4.01},{"b":"L15","k":412,"e":-4.26},{"b":"L15","k":460.4,"e":-4.43},{"b":"L15","k":507,"e":-4.37},{"b":"L15","k":547,"e":-4.34},{"b":"L15","k":592,"e":-4.48},{"b":"L15","k":634.7,"e":-4.41},{"b":"L15","k":677,"e":-4.31},{"b":"L15","k":720.7,"e":-3.95},{"b":"L15","k":757,"e":-3.89},{"b":"L15","k":793.3,"e":-3.9},{"b":"L15","k":835,"e":-4.34},{"b":"L15","k":878,"e":-4.34},{"b":"L15","k":922,"e":-4.02},{"b":"L15","k":967,"e":-4.0},{"b":"L15","k":1010,"e":-4.19},{"b":"L15","k":1052.5,"e":-4.13},{"b":"L15","k":1100,"e":-4.29},{"b":"L15","k":1150,"e":-4.09},{"b":"L15","k":1215.3,"e":-4.2},{"b":"L15","k":1216,"e":-4.14},{"b":"L15","k":1260,"e":-4.24},{"b":"L15","k":1300,"e":-4.22},{"b":"L15","k":1350,"e":-4.17},{"b":"L15","k":1393.7,"e":-4.13},
{"b":"L16","k":0,"e":-4.34},{"b":"L16","k":50,"e":-4.29},{"b":"L16","k":87,"e":-4.2},{"b":"L16","k":147,"e":-4.0},{"b":"L16","k":194,"e":-3.91},{"b":"L16","k":266,"e":-4.36},{"b":"L16","k":314,"e":-4.29},{"b":"L16","k":362,"e":-4.22},{"b":"L16","k":412,"e":-4.3},{"b":"L16","k":460.4,"e":-4.45},{"b":"L16","k":507,"e":-4.46},{"b":"L16","k":547,"e":-4.47},{"b":"L16","k":592,"e":-4.49},{"b":"L16","k":634.7,"e":-4.64},{"b":"L16","k":677,"e":-4.51},{"b":"L16","k":720.7,"e":-4.37},{"b":"L16","k":757,"e":-4.37},{"b":"L16","k":793.3,"e":-4.36},{"b":"L16","k":835,"e":-4.41},{"b":"L16","k":878,"e":-4.39},{"b":"L16","k":922,"e":-4.17},{"b":"L16","k":967,"e":-4.05},{"b":"L16","k":1010,"e":-4.24},{"b":"L16","k":1052.5,"e":-4.34},{"b":"L16","k":1100,"e":-4.32},{"b":"L16","k":1150,"e":-4.26},{"b":"L16","k":1215.3,"e":-4.29},{"b":"L16","k":1216,"e":-4.32},{"b":"L16","k":1260,"e":-4.26},{"b":"L16","k":1300,"e":-4.34},{"b":"L16","k":1350,"e":-4.34},{"b":"L16","k":1393.7,"e":-4.34},
{"b":"L17","k":0,"e":-4.49},{"b":"L17","k":50,"e":-4.37},{"b":"L17","k":87,"e":-4.34},{"b":"L17","k":147,"e":-4.19},{"b":"L17","k":194,"e":-4.35},{"b":"L17","k":266,"e":-4.37},{"b":"L17","k":314,"e":-4.48},{"b":"L17","k":362,"e":-4.29},{"b":"L17","k":412,"e":-4.35},{"b":"L17","k":460.4,"e":-4.57},{"b":"L17","k":507,"e":-4.48},{"b":"L17","k":547,"e":-4.48},{"b":"L17","k":592,"e":-4.62},{"b":"L17","k":634.7,"e":-4.71},{"b":"L17","k":677,"e":-4.57},{"b":"L17","k":720.7,"e":-4.54},{"b":"L17","k":757,"e":-4.48},{"b":"L17","k":793.3,"e":-4.42},{"b":"L17","k":835,"e":-4.49},{"b":"L17","k":878,"e":-4.53},{"b":"L17","k":922,"e":-4.41},{"b":"L17","k":967,"e":-4.31},{"b":"L17","k":1010,"e":-4.29},{"b":"L17","k":1052.5,"e":-4.49},{"b":"L17","k":1100,"e":-4.48},{"b":"L17","k":1150,"e":-4.42},{"b":"L17","k":1215.3,"e":-4.45},{"b":"L17","k":1216,"e":-4.43},{"b":"L17","k":1260,"e":-4.42},{"b":"L17","k":1300,"e":-4.53},{"b":"L17","k":1350,"e":-4.36},{"b":"L17","k":1393.7,"e":-4.49},
{"b":"L18","k":0,"e":-4.54},{"b":"L18","k":50,"e":-4.58},{"b":"L18","k":87,"e":-4.52},{"b":"L18","k":147,"e":-4.47},{"b":"L18","k":194,"e":-4.41},{"b":"L18","k":266,"e":-4.54},{"b":"L18","k":314,"e":-4.55},{"b":"L18","k":362,"e":-4.57},{"b":"L18","k":412,"e":-4.46},{"b":"L18","k":460.4,"e":-4.58},{"b":"L18","k":507,"e":-4.7},{"b":"L18","k":547,"e":-4.65},{"b":"L18","k":592,"e":-4.72},{"b":"L18","k":634.7,"e":-4.94},{"b":"L18","k":677,"e":-4.82},{"b":"L18","k":720.7,"e":-4.55},{"b":"L18","k":757,"e":-4.68},{"b":"L18","k":793.3,"e":-4.55},{"b":"L18","k":835,"e":-4.58},{"b":"L18","k":878,"e":-4.6},{"b":"L18","k":922,"e":-4.43},{"b":"L18","k":967,"e":-4.39},{"b":"L18","k":1010,"e":-4.34},{"b":"L18","k":1052.5,"e":-4.54},{"b":"L18","k":1100,"e":-4.66},{"b":"L18","k":1150,"e":-4.46},{"b":"L18","k":1215.3,"e":-4.46},{"b":"L18","k":1216,"e":-4.51},{"b":"L18","k":1260,"e":-4.48},{"b":"L18","k":1300,"e":-4.59},{"b":"L18","k":1350,"e":-4.43},{"b":"L18","k":1393.7,"e":-4.54},
{"b":"L19","k":0,"e":-4.58},{"b":"L19","k":50,"e":-4.65},{"b":"L19","k":87,"e":-4.6},{"b":"L19","k":147,"e":-4.54},{"b":"L19","k":194,"e":-4.54},{"b":"L19","k":266,"e":-4.58},{"b":"L19","k":314,"e":-4.6},{"b":"L19","k":362,"e":-4.65},{"b":"L19","k":412,"e":-4.66},{"b":"L19","k":460.4,"e":-4.72},{"b":"L19","k":507,"e":-4.78},{"b":"L19","k":547,"e":-4.72},{"b":"L19","k":592,"e":-4.82},{"b":"L19","k":634.7,"e":-5.02},{"b":"L19","k":677,"e":-4.87},{"b":"L19","k":720.7,"e":-4.72},{"b":"L19","k":757,"e":-4.72},{"b":"L19","k":793.3,"e":-4.78},{"b":"L19","k":835,"e":-4.65},{"b":"L19","k":878,"e":-4.68},{"b":"L19","k":922,"e":-4.48},{"b":"L19","k":967,"e":-4.46},{"b":"L19","k":1010,"e":-4.46},{"b":"L19","k":1052.5,"e":-4.58},{"b":"L19","k":1100,"e":-4.69},{"b":"L19","k":1150,"e":-4.48},{"b":"L19","k":1215.3,"e":-4.64},{"b":"L19","k":1216,"e":-4.65},{"b":"L19","k":1260,"e":-4.65},{"b":"L19","k":1300,"e":-4.65},{"b":"L19","k":1350,"e":-4.53},{"b":"L19","k":1393.7,"e":-4.58},
{"b":"L20","k":0,"e":-4.76},{"b":"L20","k":50,"e":-4.69},{"b":"L20","k":87,"e":-4.69},{"b":"L20","k":147,"e":-4.68},{"b":"L20","k":194,"e":-4.58},{"b":"L20","k":266,"e":-4.7},{"b":"L20","k":314,"e":-4.69},{"b":"L20","k":362,"e":-4.7},{"b":"L20","k":412,"e":-4.75},{"b":"L20","k":460.4,"e":-4.73},{"b":"L20","k":507,"e":-4.85},{"b":"L20","k":547,"e":-4.82},{"b":"L20","k":592,"e":-4.89},{"b":"L20","k":634.7,"e":-5.04},{"b":"L20","k":677,"e":-5.02},{"b":"L20","k":720.7,"e":-4.77},{"b":"L20","k":757,"e":-4.77},{"b":"L20","k":793.3,"e":-4.8},{"b":"L20","k":835,"e":-4.72},{"b":"L20","k":878,"e":-4.8},{"b":"L20","k":922,"e":-4.58},{"b":"L20","k":967,"e":-4.53},{"b":"L20","k":1010,"e":-4.55},{"b":"L20","k":1052.5,"e":-4.76},{"b":"L20","k":1100,"e":-4.76},{"b":"L20","k":1150,"e":-4.78},{"b":"L20","k":1215.3,"e":-4.68},{"b":"L20","k":1216,"e":-4.76},{"b":"L20","k":1260,"e":-4.77},{"b":"L20","k":1300,"e":-4.77},{"b":"L20","k":1350,"e":-4.57},{"b":"L20","k":1393.7,"e":-4.76},
{"b":"L21","k":0,"e":-4.85},{"b":"L21","k":50,"e":-4.72},{"b":"L21","k":87,"e":-4.75},{"b":"L21","k":147,"e":-4.72},{"b":"L21","k":194,"e":-4.63},{"b":"L21","k":266,"e":-4.77},{"b":"L21","k":314,"e":-4.82},{"b":"L21","k":362,"e":-4.82},{"b":"L21","k":412,"e":-4.78},{"b":"L21","k":460.4,"e":-4.98},{"b":"L21","k":507,"e":-4.94},{"b":"L21","k":547,"e":-4.94},{"b":"L21","k":592,"e":-4.97},{"b":"L21","k":634.7,"e":-5.06},{"b":"L21","k":677,"e":-5.04},{"b":"L21","k":720.7,"e":-4.92},{"b":"L21","k":757,"e":-4.86},{"b":"L21","k":793.3,"e":-5.0},{"b":"L21","k":835,"e":-4.85},{"b":"L21","k":878,"e":-4.82},{"b":"L21","k":922,"e":-4.68},{"b":"L21","k":967,"e":-4.63},{"b":"L21","k":1010,"e":-4.68},{"b":"L21","k":1052.5,"e":-4.85},{"b":"L21","k":1100,"e":-4.87},{"b":"L21","k":1150,"e":-4.89},{"b":"L21","k":1215.3,"e":-4.89},{"b":"L21","k":1216,"e":-4.81},{"b":"L21","k":1260,"e":-4.87},{"b":"L21","k":1300,"e":-4.82},{"b":"L21","k":1350,"e":-4.8},{"b":"L21","k":1393.7,"e":-4.85},
{"b":"L22","k":0,"e":-4.93},{"b":"L22","k":50,"e":-4.82},{"b":"L22","k":87,"e":-4.85},{"b":"L22","k":147,"e":-4.82},{"b":"L22","k":194,"e":-4.8},{"b":"L22","k":266,"e":-4.92},{"b":"L22","k":314,"e":-4.87},{"b":"L22","k":362,"e":-4.87},{"b":"L22","k":412,"e":-4.94},{"b":"L22","k":460.4,"e":-5.0},{"b":"L22","k":507,"e":-5.0},{"b":"L22","k":547,"e":-5.0},{"b":"L22","k":592,"e":-5.02},{"b":"L22","k":634.7,"e":-5.09},{"b":"L22","k":677,"e":-5.06},{"b":"L22","k":720.7,"e":-4.95},{"b":"L22","k":757,"e":-4.92},{"b":"L22","k":793.3,"e":-5.02},{"b":"L22","k":835,"e":-4.92},{"b":"L22","k":878,"e":-4.92},{"b":"L22","k":922,"e":-4.82},{"b":"L22","k":967,"e":-4.7},{"b":"L22","k":1010,"e":-4.77},{"b":"L22","k":1052.5,"e":-4.93},{"b":"L22","k":1100,"e":-4.94},{"b":"L22","k":1150,"e":-4.97},{"b":"L22","k":1215.3,"e":-4.92},{"b":"L22","k":1216,"e":-4.87},{"b":"L22","k":1260,"e":-4.92},{"b":"L22","k":1300,"e":-4.94},{"b":"L22","k":1350,"e":-4.85},{"b":"L22","k":1393.7,"e":-4.93},
{"b":"L23","k":0,"e":-4.98},{"b":"L23","k":50,"e":-4.92},{"b":"L23","k":87,"e":-4.92},{"b":"L23","k":147,"e":-4.92},{"b":"L23","k":194,"e":-4.85},{"b":"L23","k":266,"e":-4.94},{"b":"L23","k":314,"e":-4.97},{"b":"L23","k":362,"e":-4.92},{"b":"L23","k":412,"e":-4.98},{"b":"L23","k":460.4,"e":-5.04},{"b":"L23","k":507,"e":-5.04},{"b":"L23","k":547,"e":-5.04},{"b":"L23","k":592,"e":-5.04},{"b":"L23","k":634.7,"e":-5.11},{"b":"L23","k":677,"e":-5.09},{"b":"L23","k":720.7,"e":-4.99},{"b":"L23","k":757,"e":-4.98},{"b":"L23","k":793.3,"e":-5.04},{"b":"L23","k":835,"e":-5.0},{"b":"L23","k":878,"e":-4.98},{"b":"L23","k":922,"e":-4.92},{"b":"L23","k":967,"e":-4.8},{"b":"L23","k":1010,"e":-4.85},{"b":"L23","k":1052.5,"e":-4.98},{"b":"L23","k":1100,"e":-4.98},{"b":"L23","k":1150,"e":-5.0},{"b":"L23","k":1215.3,"e":-4.99},{"b":"L23","k":1216,"e":-4.97},{"b":"L23","k":1260,"e":-4.98},{"b":"L23","k":1300,"e":-4.98},{"b":"L23","k":1350,"e":-4.89},{"b":"L23","k":1393.7,"e":-4.98}
]},
"resolve":{"axis":{"x":"independent","y":"independent"}},
"layer":[
{"data":{"name":"ticks"},"mark":{"type":"rule","color":"#999999","strokeWidth":1,"strokeDash":[3,3]},
 "encoding":{"x":{"field":"k","type":"quantitative","scale":{"domain":[0,1393.7],"nice":false,"zero":false},
   "axis":{"orient":"top","values":[0,194,264,268.5,460.4,634.7,718.7,722.7,793.3,878,1052.5,1215.5,1393.7],"labels":false,"domain":false,"grid":false,"tickSize":-10,"tickColor":"black","tickWidth":1.5,"title":null}}}},
{"mark":{"type":"rule","color":"#56b4e9","strokeWidth":1.5},
 "encoding":{"y":{"datum":0,"type":"quantitative","scale":{"domain":[-5,2],"nice":false,"zero":false},
   "axis":{"orient":"right","values":[-5,-4,-3,-2,-1,0,1,2],"labels":false,"domain":false,"grid":false,"tickSize":-10,"tickColor":"black","tickWidth":1.5,"title":null}}}},
{"data":{"name":"bands"},"mark":{"type":"line","color":"black","strokeWidth":1.6,"clip":true,"interpolate":"monotone"},
 "encoding":{
  "x":{"field":"k","type":"quantitative","axis":{"orient":"bottom","values":[0,194,264,268.5,460.4,634.7,718.7,722.7,793.3,878,1052.5,1215.5,1393.7],
     "labelExpr":"['Γ','Y','F','H','Z','I','F₁','I₁','Y₁','X','Γ','N\u00a0\u00a0M','Γ'][indexof([0,194,264,268.5,460.4,634.7,718.7,722.7,793.3,878,1052.5,1215.5,1393.7], datum.value)]",
     "labelFont":{"condition":{"test":"datum.value == 0 || datum.value == 1052.5 || datum.value == 1393.7","value":"Liberation Serif"},"value":"Liberation Sans"},
     "labelFontSize":24,"labelColor":"black","labelPadding":29,"labelFlush":false,"labelOverlap":false,"domain":false,"grid":false,"tickSize":-10,"tickColor":"black","tickWidth":1.5,"title":null}},
  "y":{"field":"e","type":"quantitative","axis":{"orient":"left","values":[-5,-4,-3,-2,-1,0,1,2],"labelExpr":"'' + datum.value","labelFontSize":24,"labelColor":"black","labelPadding":25,"labelFlush":false,"domain":false,"grid":false,"tickSize":-10,"tickColor":"black","tickWidth":1.5,"title":null}},
  "detail":{"field":"b"}}}
]}
